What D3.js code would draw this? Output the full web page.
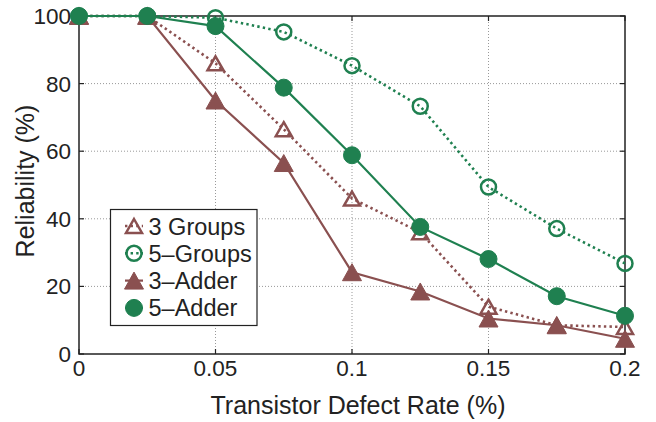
<!DOCTYPE html>
<html>
<head>
<meta charset="utf-8">
<script src="https://d3js.org/d3.v7.min.js"></script>
<style>
  html, body { margin: 0; padding: 0; background: #fff; }
  text { font-family: "Liberation Sans", Arial, Helvetica, sans-serif; fill: #222; }
</style>
</head>
<body>
<svg id="chart" width="656" height="422"></svg>
<script>
// defect rates (%) and reliability (%)
const defectRates = [0, 0.025, 0.05, 0.075, 0.1, 0.125, 0.15, 0.175, 0.2];
const groups3 = [100, 100, 86, 66.5, 46, 36, 14, 8.5, 8];
const groups5 = [100, 100, 99.5, 95.3, 85.3, 73.3, 49.4, 37.1, 26.8];
const adder3 = [100, 100, 75, 56.5, 24.2, 18.5, 10.5, 8.5, 4.5];
const adder5 = [100, 100, 97, 78.8, 58.8, 37.6, 28.1, 17.1, 11.3];
const xTicks = [0, 0.05, 0.1, 0.15, 0.2];
const yTicks = [0, 20, 40, 60, 80, 100];
const seriesNames = ["3 Groups", "5\u2013Groups", "3\u2013Adder", "5\u2013Adder"];

const brown = "#8a5050", green = "#1f8050";
const series = [
  {name: seriesNames[0], values: groups3, color: brown, dotted: true, shape: "tri", filled: false},
  {name: seriesNames[1], values: groups5, color: green, dotted: true, shape: "circ", filled: false},
  {name: seriesNames[2], values: adder3, color: brown, dotted: false, shape: "tri", filled: true},
  {name: seriesNames[3], values: adder5, color: green, dotted: false, shape: "circ", filled: true}
];

const plotL = 79, plotR = 625, plotT = 16, plotB = 354;
const x = d3.scaleLinear().domain([0, 0.2]).range([plotL, plotR]);
const y = d3.scaleLinear().domain([0, 100]).range([plotB, plotT]);

const svg = d3.select("#chart");

// grid
const grid = svg.append("g").attr("stroke", "#999").attr("stroke-width", 1).attr("stroke-dasharray", "1,2");
grid.selectAll(".gx").data(xTicks.slice(1, -1)).enter().append("line")
  .attr("x1", d => x(d)).attr("x2", d => x(d)).attr("y1", plotT).attr("y2", plotB);
grid.selectAll(".gy").data(yTicks.slice(1, -1)).enter().append("line")
  .attr("x1", plotL).attr("x2", plotR).attr("y1", d => y(d)).attr("y2", d => y(d));

// frame + inward ticks
svg.append("rect").attr("x", plotL).attr("y", plotT).attr("width", plotR - plotL).attr("height", plotB - plotT)
  .attr("fill", "none").attr("stroke", "#222").attr("stroke-width", 1.5);
const tk = svg.append("g").attr("stroke", "#222").attr("stroke-width", 1.2);
xTicks.forEach(t => {
  tk.append("line").attr("x1", x(t)).attr("x2", x(t)).attr("y1", plotB).attr("y2", plotB - 5);
  tk.append("line").attr("x1", x(t)).attr("x2", x(t)).attr("y1", plotT).attr("y2", plotT + 5);
});
yTicks.forEach(t => {
  tk.append("line").attr("x1", plotL).attr("x2", plotL + 5).attr("y1", y(t)).attr("y2", y(t));
  tk.append("line").attr("x1", plotR).attr("x2", plotR - 5).attr("y1", y(t)).attr("y2", y(t));
});

// tick labels
svg.selectAll(".xl").data(xTicks).enter().append("text")
  .attr("x", d => x(d)).attr("y", 376).attr("text-anchor", "middle")
  .attr("font-size", 22.5).text(d => d === 0 ? "0" : String(d));
svg.selectAll(".yl").data(yTicks).enter().append("text")
  .attr("x", 71).attr("y", d => y(d) + 8).attr("text-anchor", "end")
  .attr("font-size", 22.5).text(d => d);

// axis titles
svg.append("text").attr("x", 358).attr("y", 414).attr("text-anchor", "middle")
  .attr("font-size", 25).text("Transistor Defect Rate (%)");
svg.append("text").attr("transform", "translate(34,181) rotate(-90)").attr("text-anchor", "middle")
  .attr("font-size", 25).text("Reliability (%)");

function drawMarker(g, s, cx, cy) {
  if (s.shape === "tri") {
    const w = s.filled ? 19 : 16, h = s.filled ? 17 : 14;
    g.append("path")
      .attr("d", `M${cx},${cy - h / 2}L${cx + w / 2},${cy + h / 2}L${cx - w / 2},${cy + h / 2}Z`)
      .attr("fill", s.filled ? s.color : "none").attr("stroke", s.color)
      .attr("stroke-width", s.filled ? 1 : 2.5).attr("stroke-linejoin", "miter");
  } else {
    g.append("circle").attr("cx", cx).attr("cy", cy).attr("r", s.filled ? 8.5 : 7.5)
      .attr("fill", s.filled ? s.color : "none").attr("stroke", s.color)
      .attr("stroke-width", s.filled ? 1 : 2.5);
  }
}

const line = d3.line().x((d, i) => x(defectRates[i])).y(d => y(d));
series.forEach(s => {
  const g = svg.append("g");
  g.append("path").attr("d", line(s.values)).attr("fill", "none").attr("stroke", s.color)
    .attr("stroke-width", s.dotted ? 2.6 : 2.2)
    .attr("stroke-dasharray", s.dotted ? "2.4,3.2" : null);
  s.values.forEach((v, i) => drawMarker(g, s, x(defectRates[i]), y(v)));
});

// legend
const lg = svg.append("g");
lg.append("rect").attr("x", 110.5).attr("y", 209.5).attr("width", 146.5).attr("height", 116)
  .attr("fill", "#fff").attr("stroke", "#222").attr("stroke-width", 1.2);
series.forEach((s, i) => {
  const cy = 226 + i * 27.3;
  lg.append("line").attr("x1", 125).attr("x2", 143).attr("y1", cy).attr("y2", cy)
    .attr("stroke", s.color).attr("stroke-width", s.dotted ? 2.6 : 2.2)
    .attr("stroke-dasharray", s.dotted ? "2.4,3.2" : null);
  drawMarker(lg, s, 134, cy);
  lg.append("text").attr("x", 148.5).attr("y", cy + 8.5).attr("font-size", 23.5).text(s.name);
});
</script>
</body>
</html>
